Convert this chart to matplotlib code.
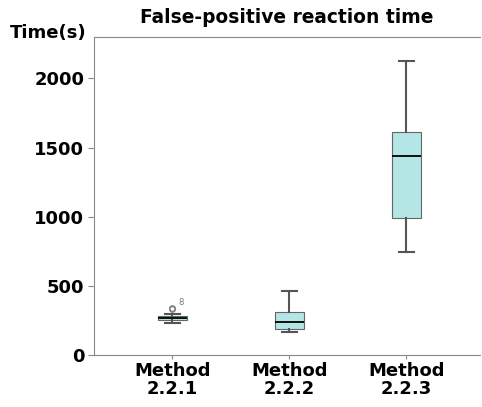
import matplotlib.pyplot as plt

labels = ["Method\n2.2.1", "Method\n2.2.2", "Method\n2.2.3"]
whislo = [234, 164, 746]
q1 = [256, 188, 993]
med = [268, 239, 1442]
q3 = [285, 314, 1616]
whishi = [300, 464, 2130]
outliers = [[330, 342], [], []]
outlier_tags = ["8"]

plt.rcParams["font.family"] = ["DejaVu Sans"]

stats = []
for i in range(3):
    stats.append({"label": labels[i], "whislo": whislo[i], "q1": q1[i], "med": med[i],
                  "q3": q3[i], "whishi": whishi[i], "fliers": outliers[i]})

fig = plt.figure(figsize=(4.82, 4.07), dpi=100)
ax = fig.add_axes([94 / 482, 1 - 355 / 407, 386 / 482, 318 / 407])

ax.bxp(stats, positions=[1, 2, 3], widths=0.25, patch_artist=True, showfliers=True,
       boxprops=dict(facecolor="#b4e6e6", edgecolor="#666666", linewidth=0.8),
       whiskerprops=dict(color="#555555", linewidth=1.5),
       capprops=dict(color="#555555", linewidth=1.5),
       medianprops=dict(color="black", linewidth=1.3),
       flierprops=dict(marker="o", markersize=4, markerfacecolor="none",
                       markeredgecolor="#777777", markeredgewidth=0.8),
       capwidths=0.13)

ax.text(1.05, outliers[0][-1] + 20, outlier_tags[0], fontsize=6, color="#777777")

ax.set_xlim(0.33, 3.63)
ax.set_ylim(0, 2300)
ax.set_yticks([0, 500, 1000, 1500, 2000])
ax.set_xticks([1, 2, 3])
ax.set_xticklabels(labels, fontweight="bold", fontsize=13, linespacing=1.0)
for t in ax.get_yticklabels():
    t.set_fontweight("bold")
    t.set_fontsize(13)

for s in ["left", "bottom", "top"]:
    ax.spines[s].set_color("#888888")
ax.spines["right"].set_visible(False)
ax.tick_params(axis="y", color="#888888", length=4, pad=3)
ax.tick_params(axis="x", color="#888888", length=3, pad=2)

ax.set_title("False-positive reaction time", fontweight="bold", fontsize=13.4, pad=10)
ax.text(-0.02, 1.012, "Time(s)", transform=ax.transAxes, ha="right", va="center",
        fontweight="bold", fontsize=13)

fig.savefig("out.png", dpi=100)
